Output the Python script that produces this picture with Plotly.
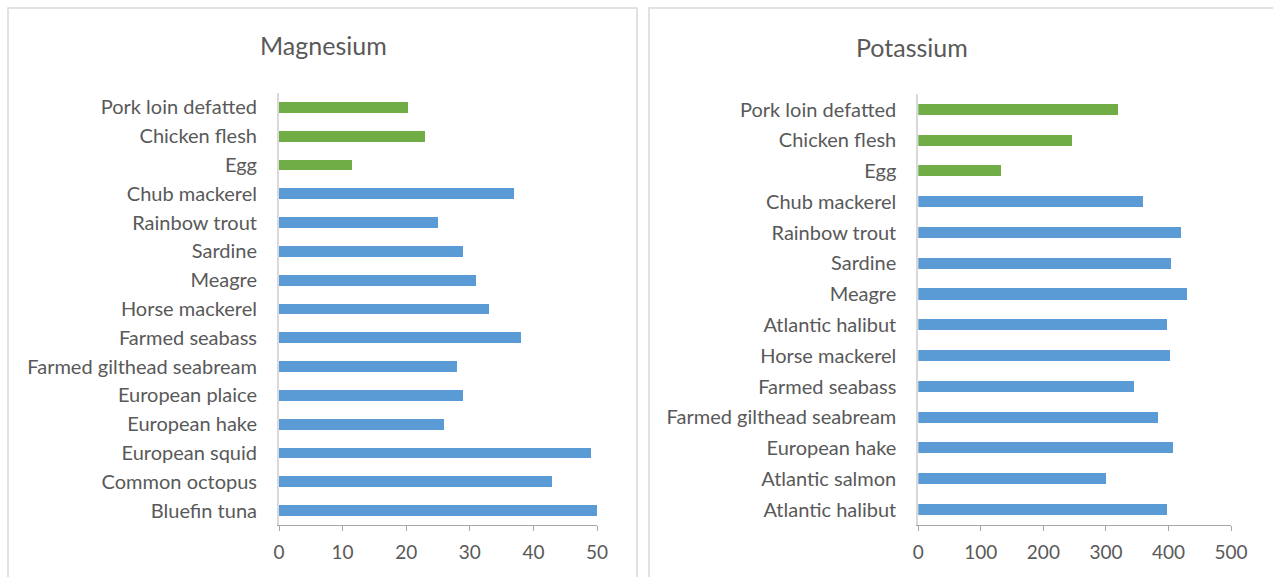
import plotly.graph_objects as go

# ---------------- data ----------------
mg_fish_names = ["Bluefin tuna", "Common octopus", "European squid", "European hake",
                 "European plaice", "Farmed gilthead seabream", "Farmed seabass",
                 "Horse mackerel", "Meagre", "Sardine", "Rainbow trout", "Chub mackerel"]
mg_fish_values = [50, 43, 49, 26, 29, 28, 38, 33, 31, 29, 25, 37]
mg_other_names = ["Egg", "Chicken flesh", "Pork loin defatted"]
mg_other_values = [11.5, 23, 20.3]

k_fish_names = ["Atlantic halibut", "Atlantic salmon", "European hake",
                "Farmed gilthead seabream", "Farmed seabass", "Horse mackerel",
                "Atlantic halibut", "Meagre", "Sardine", "Rainbow trout", "Chub mackerel"]
k_fish_values = [398, 301, 408, 383, 346, 403, 398, 430, 404, 420, 360]
k_other_names = ["Egg", "Chicken flesh", "Pork loin defatted"]
k_other_values = [132, 247, 320]

mg_ticks = [0, 10, 20, 30, 40, 50]
k_ticks = [0, 100, 200, 300, 400, 500]

# ---------------- style ----------------
BLUE = "#5B9BD5"
GREEN = "#70AD47"
TXT = "#595959"
FONT = "Lato"
W, H = 1273, 577

fig = go.Figure()


def add_panel(fig, fish_names, fish_vals, other_names, other_vals, xa, ya, bw):
    n_f = len(fish_names)
    pos_f = list(range(n_f))
    pos_o = list(range(n_f, n_f + len(other_names)))
    fig.add_trace(go.Bar(y=pos_f, x=fish_vals, orientation="h", marker_color=BLUE,
                         marker_line_width=0, width=bw, xaxis=xa, yaxis=ya,
                         showlegend=False, hoverinfo="x"))
    fig.add_trace(go.Bar(y=pos_o, x=other_vals, orientation="h", marker_color=GREEN,
                         marker_line_width=0, width=bw, xaxis=xa, yaxis=ya,
                         showlegend=False, hoverinfo="x"))
    return pos_f + pos_o, fish_names + other_names


mg_pos, mg_labels = add_panel(fig, mg_fish_names, mg_fish_values, mg_other_names,
                              mg_other_values, "x", "y", 0.38)
k_pos, k_labels = add_panel(fig, k_fish_names, k_fish_values, k_other_names,
                            k_other_values, "x2", "y2", 0.36)

label_font = dict(family=FONT, size=20, color=TXT)
tick_font = dict(family=FONT, size=19, color=TXT)

xcommon = dict(showgrid=False, zeroline=False, showline=True, linecolor="#A6A6A6",
               linewidth=1, ticks="outside", ticklen=5, tickcolor="#A6A6A6",
               tickfont=tick_font, fixedrange=True, ticklabelstandoff=5,
               automargin=False)
ycommon = dict(showgrid=False, zeroline=False, showline=True, linecolor="#D9D9D9",
               linewidth=2, ticks="", tickfont=label_font, fixedrange=True,
               ticklabelstandoff=16, automargin=False)

fig.update_layout(
    template="none",
    width=W, height=H, autosize=False,
    margin=dict(l=0, r=0, t=0, b=0, pad=0),
    paper_bgcolor="white", plot_bgcolor="white",
    bargap=0,
    xaxis=dict(domain=[279 / W, 597 / W], range=[0, 50], tickvals=mg_ticks,
               anchor="y", **xcommon),
    yaxis=dict(domain=[1 - 525 / H, 1 - 93 / H], range=[-0.5, len(mg_labels) - 0.5],
               tickvals=mg_pos, ticktext=mg_labels, anchor="x", **ycommon),
    xaxis2=dict(domain=[918.3 / W, 1231 / W], range=[0, 500], tickvals=k_ticks,
                anchor="y2", **xcommon),
    yaxis2=dict(domain=[1 - 525 / H, 1 - 94.2 / H], range=[-0.5, len(k_labels) - 0.5],
                tickvals=k_pos, ticktext=k_labels, anchor="x2", **ycommon),
)

# titles
fig.add_annotation(text="Magnesium", x=323 / W, y=1 - 45 / H, xref="paper", yref="paper",
                   showarrow=False, xanchor="center", yanchor="middle",
                   font=dict(family=FONT, size=25, color=TXT))
fig.add_annotation(text="Potassium", x=912 / W, y=1 - 47 / H, xref="paper", yref="paper",
                   showarrow=False, xanchor="center", yanchor="middle",
                   font=dict(family=FONT, size=25, color=TXT))

# panel borders
fig.add_shape(type="rect", xref="paper", yref="paper", x0=8 / W, x1=637 / W,
              y0=-0.05, y1=1 - 8 / H, line=dict(color="#D9D9D9", width=1.5),
              fillcolor="rgba(0,0,0,0)", layer="below")
fig.add_shape(type="rect", xref="paper", yref="paper", x0=649 / W, x1=1.05,
              y0=-0.05, y1=1 - 8 / H, line=dict(color="#D9D9D9", width=1.5),
              fillcolor="rgba(0,0,0,0)", layer="below")

fig.write_html("out.html",
               config={"responsive": False, "displayModeBar": False},
               post_script="document.body.style.margin='0';document.body.style.overflow='hidden';")
